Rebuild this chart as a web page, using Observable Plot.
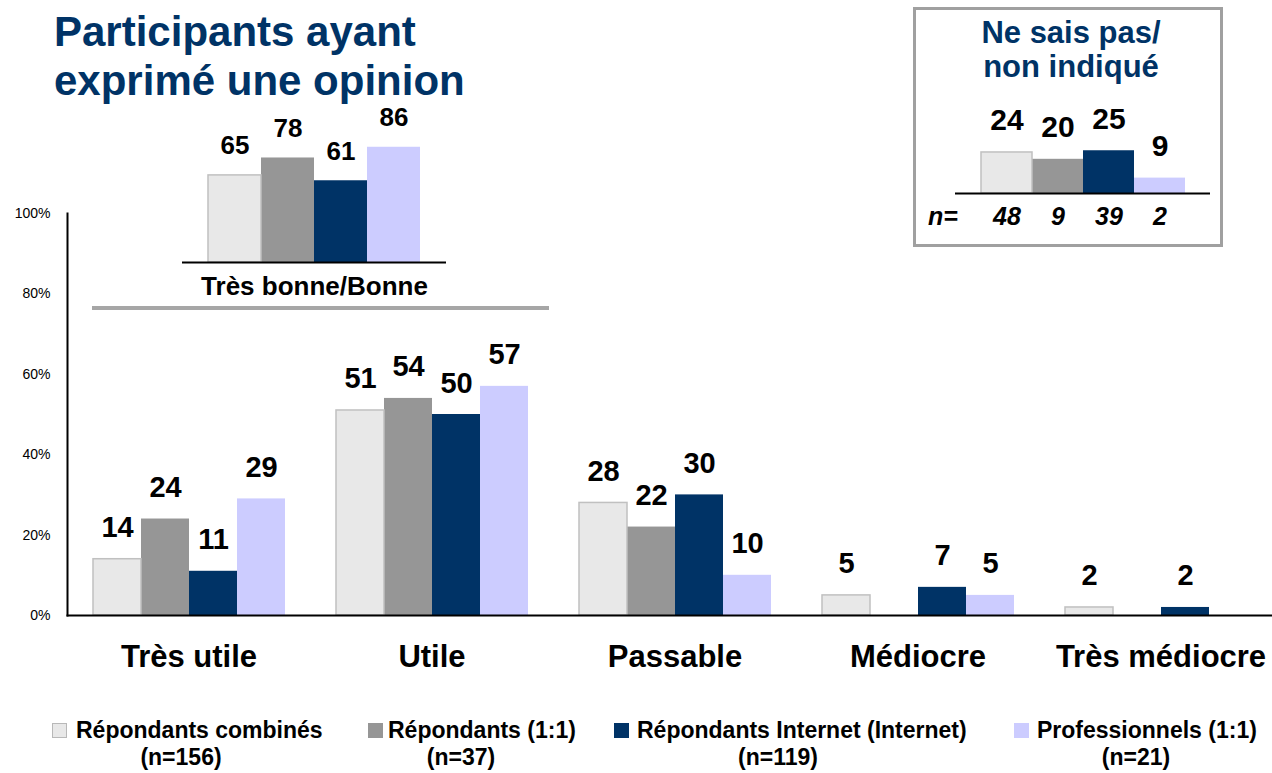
<!DOCTYPE html>
<html><head><meta charset="utf-8">
<script src="https://cdn.jsdelivr.net/npm/d3@7"></script>
<script src="https://cdn.jsdelivr.net/npm/@observablehq/plot@0.6"></script>
<style>
html,body{margin:0;padding:0;background:#fff;overflow:hidden;width:1272px;height:773px}
#root{position:relative;width:1272px;height:773px;overflow:hidden;font-family:"Liberation Sans",Arial,sans-serif;background:#fff}
.abs{position:absolute;white-space:nowrap}
#root svg{position:absolute;left:0;top:0}
</style></head>
<body><div id="root"></div>
<script>
// ---------- data ----------
const categories = ["Très utile", "Utile", "Passable", "Médiocre", "Très médiocre"];
const series = ["Répondants combinés", "Répondants (1:1)", "Répondants Internet (Internet)", "Professionnels (1:1)"];
const seriesN = ["(n=156)", "(n=37)", "(n=119)", "(n=21)"];
const combines = [14, 51, 28, 5, 2];
const unPourUn = [24, 54, 22, 0, 0];
const internet = [11, 50, 30, 7, 2];
const professionnels = [29, 57, 10, 5, 0];
const goodLabel = "Très bonne/Bonne";
const goodValues = [65, 78, 61, 86];
const nspValues = [24, 20, 25, 9];
const nspN = [48, 9, 39, 2];
const yTicks = [0, 20, 40, 60, 80, 100];
const titleLines = ["Participants ayant", "exprimé une opinion"];
const nspTitle = ["Ne sais pas/", "non indiqué"];

// ---------- styles ----------
const colors = ["#e8e8e8", "#969696", "#003366", "#ccccff"];
const FONT = '"Liberation Sans", Arial, sans-serif';
const NAVY = "#003366";
const root = document.getElementById("root");

const seriesValues = [combines, unPourUn, internet, professionnels];
const rows = [];
categories.forEach((c, i) => seriesValues.forEach((vals, j) => rows.push({category: c, series: series[j], value: vals[i]})));
const goodRows = series.map((s, j) => ({category: goodLabel, series: s, value: goodValues[j]}));
const nspRows = series.map((s, j) => ({series: s, value: nspValues[j]}));

const svgStyle = {fontFamily: FONT, background: "transparent", maxWidth: "none", overflow: "visible"};

// ---------- main chart ----------
const main = Plot.plot({
  width: 1282, height: 675,
  marginLeft: 67, marginRight: 0, marginTop: 213, marginBottom: 60,
  style: svgStyle,
  fx: {domain: categories, padding: 0},
  x: {domain: series, paddingInner: 0, paddingOuter: 0.48, axis: null},
  y: {domain: [0, 100]},
  color: {domain: series, range: colors},
  marks: [
    Plot.barY(rows, {fx: "category", x: "series", y: "value", fill: "series"}),
    Plot.barY(rows.filter(d => d.series === series[0]), {fx: "category", x: "series", y: "value", fill: "none", stroke: "#c0c0c0", strokeWidth: 1.5}),
    Plot.text(rows.filter(d => d.value > 0), {fx: "category", x: "series", y: "value", text: d => String(d.value),
      lineAnchor: "bottom", dy: -22, fontSize: 29, fontWeight: "bold", fill: "#000"}),
    Plot.axisY({ticks: yTicks, tickFormat: d => d + "%", tickSize: 0, tickPadding: 17, fontSize: 14, label: null}),
    Plot.axisFx({anchor: "bottom", tickSize: 0, tickPadding: 29, fontSize: 31, fontWeight: "bold", label: null}),
    Plot.frame({anchor: "left", facet: "super", strokeWidth: 2}),
    Plot.frame({anchor: "bottom", facet: "super", strokeWidth: 2})
  ]
});
root.appendChild(main);

// ---------- inset: Très bonne/Bonne ----------
const good = Plot.plot({
  width: 446, height: 310,
  marginLeft: 182, marginRight: 0, marginTop: 128, marginBottom: 48,
  style: svgStyle,
  fx: {domain: [goodLabel], padding: 0},
  x: {domain: series, paddingInner: 0, paddingOuter: 0.49, axis: null},
  y: {domain: [0, 100], axis: null},
  color: {domain: series, range: colors},
  marks: [
    Plot.barY(goodRows, {fx: "category", x: "series", y: "value", fill: "series"}),
    Plot.barY(goodRows.filter(d => d.series === series[0]), {fx: "category", x: "series", y: "value", fill: "none", stroke: "#c0c0c0", strokeWidth: 1.5}),
    Plot.text(goodRows, {fx: "category", x: "series", y: "value", text: d => String(d.value),
      lineAnchor: "bottom", dy: -21, fontSize: 26, fontWeight: "bold", fill: "#000"}),
    Plot.ruleY([0], {strokeWidth: 2}),
    Plot.axisFx({anchor: "bottom", tickSize: 0, tickPadding: 14, fontSize: 26, fontWeight: "bold", label: null})
  ]
});
root.appendChild(good);

// separator line under inset
const sep = document.createElement("div");
sep.className = "abs";
Object.assign(sep.style, {left: "92px", top: "306px", width: "457px", height: "4px", background: "#a6a6a6"});
root.appendChild(sep);

// ---------- NSP box ----------
const box = document.createElement("div");
box.className = "abs";
Object.assign(box.style, {left: "913px", top: "7px", width: "310px", height: "240px", border: "3px solid #a0a0a0", boxSizing: "border-box"});
root.appendChild(box);

const nsp = Plot.plot({
  width: 1210, height: 238,
  marginLeft: 955, marginRight: 0, marginTop: 22, marginBottom: 45,
  style: svgStyle,
  x: {domain: series, paddingInner: 0, paddingOuter: 0.49},
  y: {domain: [0, 100], axis: null},
  color: {domain: series, range: colors},
  marks: [
    Plot.barY(nspRows, {x: "series", y: "value", fill: "series"}),
    Plot.barY(nspRows.filter(d => d.series === series[0]), {x: "series", y: "value", fill: "none", stroke: "#c0c0c0", strokeWidth: 1.5}),
    Plot.text(nspRows, {x: "series", y: "value", text: d => String(d.value),
      lineAnchor: "bottom", dy: -22, fontSize: 30, fontWeight: "bold", fill: "#000"}),
    Plot.ruleY([0], {strokeWidth: 2}),
    Plot.axisX({anchor: "bottom", tickSize: 0, tickPadding: 14, tickFormat: d => String(nspN[series.indexOf(d)]),
      fontSize: 25, fontWeight: "bold", fontStyle: "italic", label: null})
  ]
});
root.appendChild(nsp);

// ---------- text helper ----------
function addText(str, x, baseline, size, opts = {}) {
  const {anchor = "start", color = "#000", weight = "bold", style = "normal"} = opts;
  const d = document.createElement("div");
  d.className = "abs";
  d.textContent = str;
  Object.assign(d.style, {
    fontSize: size + "px", lineHeight: size + "px", fontWeight: weight, fontStyle: style, color,
    top: (baseline - 0.8465 * size) + "px", left: x + "px"
  });
  if (anchor === "middle") d.style.transform = "translateX(-50%)";
  root.appendChild(d);
  return d;
}

// titles
addText(titleLines[0], 54, 47, 42, {color: NAVY});
addText(titleLines[1], 54, 96, 42, {color: NAVY});
addText(nspTitle[0], 1071, 43, 31, {color: NAVY, anchor: "middle"});
addText(nspTitle[1], 1071, 77, 31, {color: NAVY, anchor: "middle"});
addText("n=", 928, 225, 25, {style: "italic"});

// ---------- legend ----------
const sqX = [52, 368, 614, 1014];
const textX = [76, 388, 637, 1037];
const nX = [181, 461, 778, 1136];
series.forEach((s, i) => {
  const sq = document.createElement("div");
  sq.className = "abs";
  Object.assign(sq.style, {left: sqX[i] + "px", top: "723px", width: "15px", height: "15px", background: colors[i], boxSizing: "border-box",
    border: i === 0 ? "1.5px solid #b8b8b8" : "none"});
  root.appendChild(sq);
  addText(s, textX[i], 738, 23);
  addText(seriesN[i], nX[i], 765, 23, {anchor: "middle"});
});
</script>
</body></html>
